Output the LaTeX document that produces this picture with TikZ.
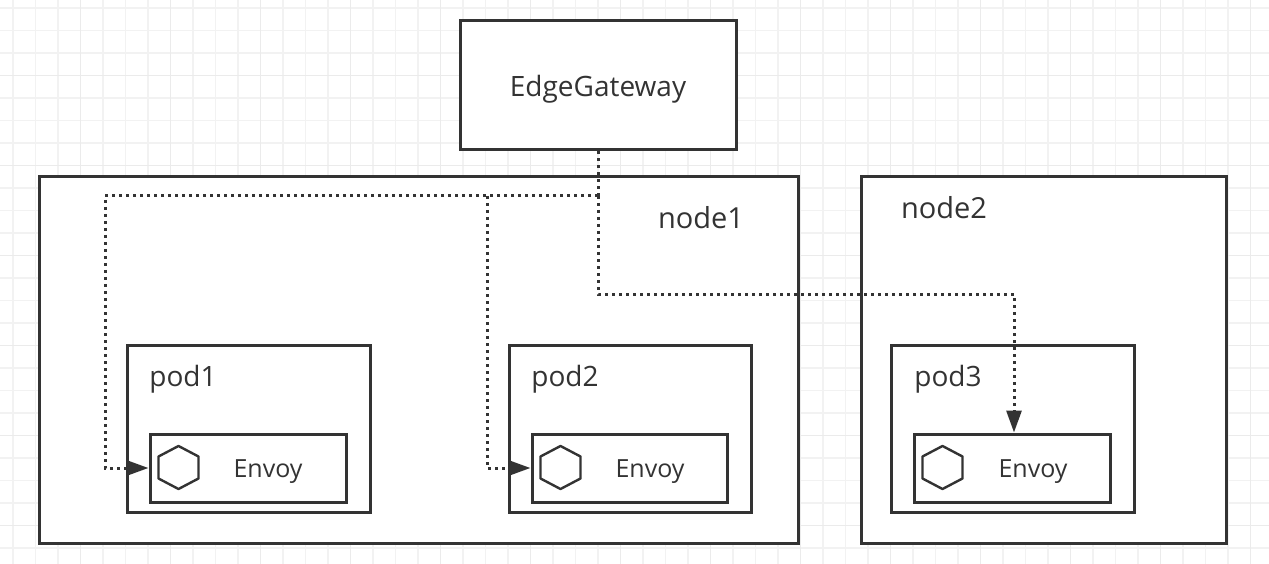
\documentclass[tikz,border=0pt]{standalone}
\usepackage{fontspec}
\setmainfont{Open Sans}
\usetikzlibrary{arrows.meta}
\definecolor{inkgray}{HTML}{333333}
\tikzset{
	box/.style={draw=inkgray,line width=3pt,fill=white,minimum width=#1,inner sep=0pt,anchor=north west},
	label/.style={text=inkgray,inner sep=0pt,font=\fontsize{#1}{#1}\selectfont},
	hexicon/.pic={
			\draw[inkgray,line width=2.4pt,line join=round] (0,-21.5) -- (20,-11) -- (20,11) -- (0,21.5) -- (-20,11) -- (-20,-11) -- cycle;
		},
	route/.style={draw=inkgray,line width=3pt,dash pattern=on 3pt off 4pt},
	>={Triangle[length=22pt,width=15pt]}
}
\begin{document}
\begin{tikzpicture}[x=1pt,y=-1pt]
	\useasboundingbox (0,0) rectangle (1269,564);
	\fill[white] (0,0) rectangle (1269,564);

	% grid paper
	\foreach \i in {0,...,56} {
			\draw[line width=1.2pt,black!5] ({-9.5+22.5*\i},0) -- ({-9.5+22.5*\i},564);
		}
	\foreach \i in {0,...,25} {
			\draw[line width=1.2pt,black!5] (0,{8+22.5*\i}) -- (1269,{8+22.5*\i});
		}
	\foreach \i in {0,...,14} {
			\draw[line width=1.2pt,black!8] ({-9.5+90*\i},0) -- ({-9.5+90*\i},564);
		}
	\foreach \i in {0,...,6} {
			\draw[line width=1.2pt,black!8] (0,{75.5+90*\i}) -- (1269,{75.5+90*\i});
		}

	% hosts
	\node[box=276pt,minimum height=129pt] (gateway) at (458.5,19.5) {};
	\node[box=759pt,minimum height=366pt] (node1) at (37.5,175.5) {};
	\node[box=365pt,minimum height=366pt] (node2) at (859.5,175.5) {};

	% pods
	\node[box=243pt,minimum height=167pt] (pod1) at (125.5,343.5) {};
	\node[box=242pt,minimum height=167pt] (pod2) at (507.5,343.5) {};
	\node[box=243pt,minimum height=167pt] (pod3) at (889.5,343.5) {};

	% sidecars
	\node[box=196pt,minimum height=68pt] (envoy1) at (148.5,432.5) {};
	\node[box=195pt,minimum height=68pt] (envoy2) at (530.5,432.5) {};
	\node[box=196pt,minimum height=68pt] (envoy3) at (912.5,432.5) {};
	\pic at (178.5,467.5) {hexicon};
	\pic at (560.5,467.5) {hexicon};
	\pic at (942.5,467.5) {hexicon};

	% labels
	\node[label=28] (gatewaytext) at (598,89.5) {EdgeGateway};
	\node[label=29] (node1text) at (701,217.5) {node1};
	\node[label=29] (node2text) at (944,207.5) {node2};
	\node[label=28] (pod1text) at (183,379.5) {pod1};
	\node[label=28] (pod2text) at (565,379.5) {pod2};
	\node[label=28] (pod3text) at (948,379.5) {pod3};
	\node[label=25] (envoy1text) at (268,472) {Envoy};
	\node[label=25] (envoy2text) at (650,472) {Envoy};
	\node[label=25] (envoy3text) at (1033,472) {Envoy};

	% routes from the gateway
	\coordinate (split) at (598,196);
	\coordinate (left1) at (105,196);
	\coordinate (left2) at (487,196);
	\coordinate (turn3) at (598,294);
	\coordinate (over3) at (1014,294);
	\draw[route] (gateway.south -| split) -- (split);
	\draw[route,->] (split) -- (left1) -- (left1 |- envoy1.west) -- (envoy1.west);
	\draw[route,->] (left2) -- (left2 |- envoy2.west) -- (envoy2.west);
	\draw[route,->] (split) -- (turn3) -- (over3) -- (over3 |- envoy3.north);
\end{tikzpicture}
\end{document}
